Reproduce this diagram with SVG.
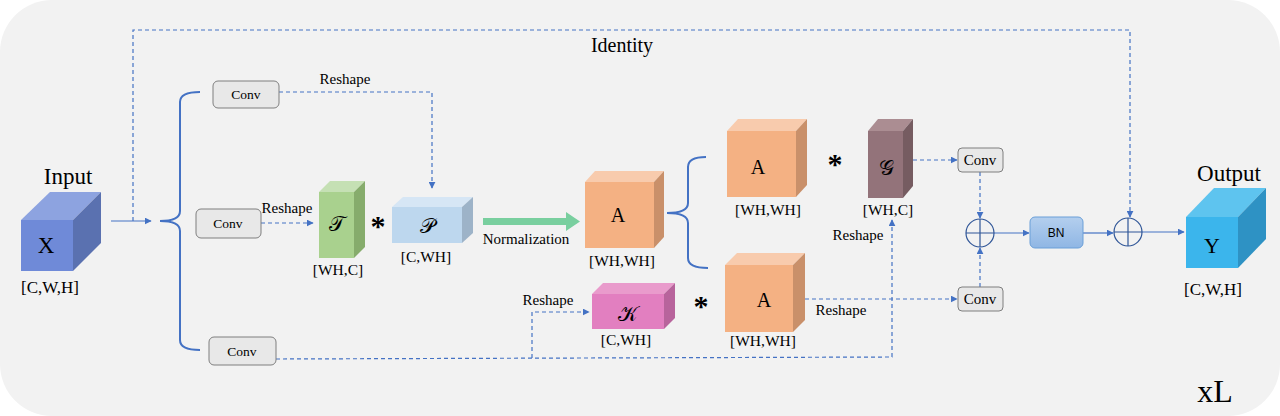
<svg xmlns="http://www.w3.org/2000/svg" width="1280" height="416" viewBox="0 0 1280 416">
<defs>
<marker id="ah" viewBox="0 0 10 10" refX="9" refY="5" markerWidth="7" markerHeight="7" markerUnits="userSpaceOnUse" orient="auto"><path d="M0,0 L10,5 L0,10 z" fill="#4472c4"/></marker>
<linearGradient id="bng" x1="0" y1="0" x2="0" y2="1"><stop offset="0" stop-color="#b4cfee"/><stop offset="1" stop-color="#8fb6e4"/></linearGradient>
</defs>
<style>
text{font-family:'Liberation Serif','DejaVu Serif',serif;fill:#000;text-anchor:middle}
.s{font-size:15.5px}
.r{font-size:15px}
.conv{fill:#e8e8e8;stroke:#7f7f7f;stroke-width:1}
.d{fill:none;stroke:#4472c4;stroke-width:1.2;stroke-dasharray:4 3}
.l{fill:none;stroke:#4472c4;stroke-width:1.2}
.br{fill:none;stroke:#4472c4;stroke-width:2}
.op{fill:none;stroke:#2f5597;stroke-width:1.2}
.m{font-size:21px}
</style>
<rect x="0" y="0" width="1280" height="416" fill="#ffffff"/>
<rect x="0" y="0" width="1280" height="416" rx="52" ry="52" fill="#f2f2f2"/>

<g id="connectors">
<path class="l" d="M111,221 L151,221" marker-end="url(#ah)"/>
<path class="d" d="M133,221 L133,30 L1130,30 L1130,217" marker-end="url(#ah)"/>
<path class="br" d="M200,92 Q180,92 180,102 L180,211 Q180,221 160,221 Q180,221 180,231 L180,340 Q180,350 200,350"/>
<path class="d" d="M279,92 L432,92 L432,188" marker-end="url(#ah)"/>
<path class="d" d="M261,223 L313,223" marker-end="url(#ah)"/>
<path d="M483,218 L566,218 L566,212 L580,221.5 L566,231 L566,225 L483,225 z" fill="#79cf9f"/>
<path class="br" d="M706,157 Q688,157 688,167 L688,203 Q688,213 667,213 Q688,213 688,223 L688,258 Q688,268 708,268"/>
<path class="d" d="M276,359 L892,357 L892,220" marker-end="url(#ah)"/>
<path class="d" d="M532,358 L532,312 L589,312" marker-end="url(#ah)"/>
<path class="d" d="M805,299 L957,299" marker-end="url(#ah)"/>
<path class="d" d="M913,160 L957,160" marker-end="url(#ah)"/>
<path class="d" d="M980,172 L980,218" marker-end="url(#ah)"/>
<path class="d" d="M980,287 L980,248" marker-end="url(#ah)"/>
<path class="l" d="M994,233 L1029,233" marker-end="url(#ah)"/>
<path class="l" d="M1083,233 L1113,233" marker-end="url(#ah)"/>
<path class="l" d="M1142,232 L1184,232" marker-end="url(#ah)"/>
</g>

<g id="input">
<rect x="21" y="220" width="52" height="51" fill="#6f8ad8"/>
<polygon points="21,220 50,192 101,192 73,220" fill="#8da3e0"/>
<polygon points="73,220 101,192 101,243 73,271" fill="#5a71b0"/>
<text x="68" y="184" font-size="23">Input</text>
<text x="46" y="253" font-size="23">X</text>
<text x="50" y="293" font-size="17">[C,W,H]</text>
</g>

<g id="identity-label"><text x="622" y="52" font-size="20">Identity</text></g>

<g id="conv1">
<rect class="conv" x="213" y="81" width="66" height="27" rx="5"/>
<text x="246" y="99" font-size="13.5">Conv</text>
<text class="r" x="345" y="84">Reshape</text>
</g>
<g id="conv2">
<rect class="conv" x="196" y="209" width="65" height="29" rx="5"/>
<text x="228" y="228" font-size="13.5">Conv</text>
<text class="r" x="287" y="213">Reshape</text>
</g>
<g id="conv3">
<rect class="conv" x="209" y="337" width="67" height="28" rx="5"/>
<text x="242" y="356" font-size="13.5">Conv</text>
</g>

<g id="T">
<rect x="319" y="192" width="35" height="66" fill="#a9d18e"/>
<polygon points="319,192 330,181 365,181 354,192" fill="#c5e0b4"/>
<polygon points="354,192 365,181 365,247 354,258" fill="#86ac6c"/>
<text class="m" x="337" y="231">𝒯</text>
<text class="s" x="338" y="275">[WH,C]</text>
</g>
<g id="star1"><text x="378" y="236" font-size="30" font-weight="bold">*</text></g>
<g id="P">
<rect x="392" y="207" width="70" height="36" fill="#bdd7ee"/>
<polygon points="392,207 403,197 473,197 462,207" fill="#d6e6f5"/>
<polygon points="462,207 473,197 473,233 462,243" fill="#9db3c8"/>
<text class="m" x="427" y="233">𝒫</text>
<text class="s" x="426" y="262">[C,WH]</text>
</g>
<g id="norm-label"><text class="r" x="526" y="244">Normalization</text></g>

<g id="A1">
<rect x="585" y="182" width="69" height="66" fill="#f4b183"/>
<polygon points="585,182 595,171 664,171 654,182" fill="#f8cbad"/>
<polygon points="654,182 664,171 664,237 654,248" fill="#c9906a"/>
<text x="618" y="222" font-size="20">A</text>
<text class="s" x="622" y="266">[WH,WH]</text>
</g>

<g id="A2">
<rect x="727" y="131" width="69" height="66" fill="#f4b183"/>
<polygon points="727,131 738,119 807,119 796,131" fill="#f8cbad"/>
<polygon points="796,131 807,119 807,185 796,197" fill="#c9906a"/>
<text x="758" y="174" font-size="20">A</text>
<text class="s" x="768" y="215">[WH,WH]</text>
</g>
<g id="star2"><text x="835" y="174" font-size="30" font-weight="bold">*</text></g>
<g id="G">
<rect x="868" y="131" width="35" height="67" fill="#93737a"/>
<polygon points="868,131 878,119 913,119 903,131" fill="#ab8d92"/>
<polygon points="903,131 913,119 913,186 903,198" fill="#765c61"/>
<text class="m" x="886" y="175">𝒢</text>
<text class="s" x="888" y="215">[WH,C]</text>
<text class="r" x="858" y="240">Reshape</text>
</g>

<g id="K">
<rect x="592" y="294" width="72" height="35" fill="#e27fc0"/>
<polygon points="592,294 603,283 675,283 664,294" fill="#e99bcc"/>
<polygon points="664,294 675,283 675,318 664,329" fill="#b8649c"/>
<text class="m" x="628" y="321">𝒦</text>
<text class="s" x="626" y="345">[C,WH]</text>
<text class="r" x="548" y="305">Reshape</text>
</g>
<g id="star3"><text x="701" y="316" font-size="30" font-weight="bold">*</text></g>
<g id="A3">
<rect x="725" y="265" width="68" height="67" fill="#f4b183"/>
<polygon points="725,265 737,253 805,253 793,265" fill="#f8cbad"/>
<polygon points="793,265 805,253 805,320 793,332" fill="#c9906a"/>
<text x="764" y="307" font-size="20">A</text>
<text class="s" x="763" y="346">[WH,WH]</text>
<text class="r" x="841" y="315">Reshape</text>
</g>

<g id="conv4">
<rect class="conv" x="958" y="148" width="45" height="24" rx="4"/>
<text x="980" y="165" font-size="15">Conv</text>
</g>
<g id="conv5">
<rect class="conv" x="958" y="287" width="45" height="24" rx="4"/>
<text x="980" y="304" font-size="15">Conv</text>
</g>
<g id="add1">
<circle class="op" cx="980" cy="233" r="14"/>
<path class="op" d="M966,233 L994,233 M980,219 L980,247"/>
</g>
<g id="BN">
<rect x="1030" y="217" width="53" height="31" rx="5" fill="url(#bng)" stroke="#6a9fd8" stroke-width="1"/>
<text x="1056" y="237" style="font-family:'Liberation Sans',Arial,sans-serif" font-size="12">BN</text>
</g>
<g id="add2">
<circle class="op" cx="1128" cy="232" r="14"/>
<path class="op" d="M1114,232 L1142,232 M1128,218 L1128,246"/>
</g>

<g id="output">
<rect x="1186" y="217" width="52" height="51" fill="#3bb5ec"/>
<polygon points="1186,217 1214,188 1266,188 1238,217" fill="#5ec4ef"/>
<polygon points="1238,217 1266,188 1266,239 1238,268" fill="#2e92c4"/>
<text x="1229" y="181" font-size="23">Output</text>
<text x="1212" y="253" font-size="22">Y</text>
<text x="1213" y="295" font-size="17">[C,W,H]</text>
</g>

<g id="xL"><text x="1215" y="402" font-size="32">xL</text></g>
</svg>
